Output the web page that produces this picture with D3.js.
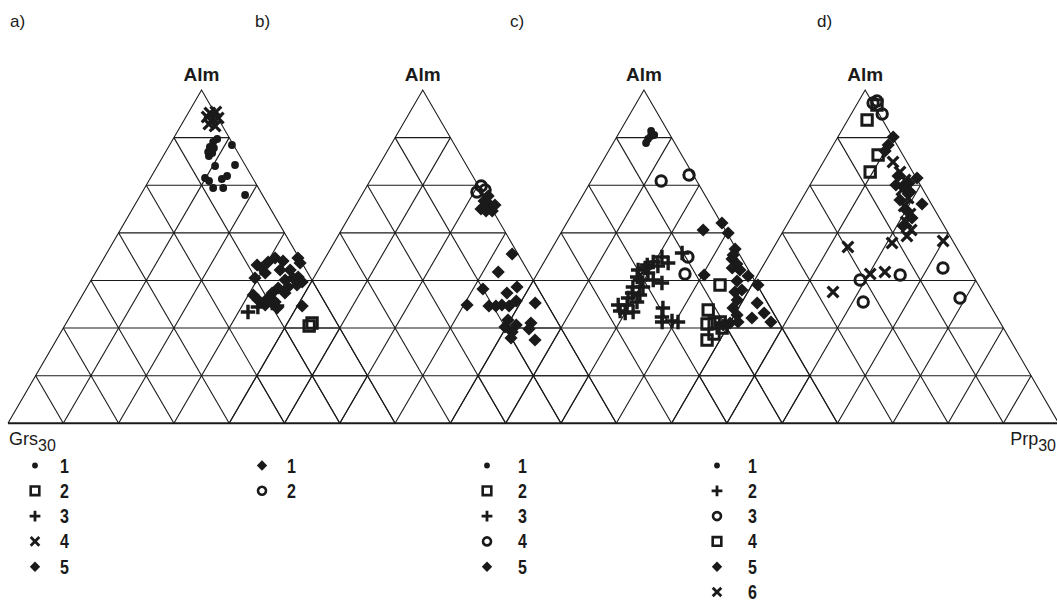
<!DOCTYPE html>
<html>
<head>
<meta charset="utf-8">
<script src="https://cdn.jsdelivr.net/npm/d3@7"></script>
<style>
  html, body { margin: 0; padding: 0; background: #fff; }
  svg { display: block; }
  text { fill: #1a1a1a; font-family: "Liberation Sans", Arial, sans-serif; }
</style>
</head>
<body>
<svg id="chart" width="1057" height="604"></svg>
<script>
// Garnet compositions, Alm–Grs–Prp ternary, four sample groups.
// Each point is [Alm, Prp] in percent of the plotted triangle; Grs = 100 - Alm - Prp.

const panelLabels = ["a)", "b)", "c)", "d)"];
const apexLabel = "Alm";
const leftCorner = "Grs";
const rightCorner = "Prp";
const cornerSub = "30";
const gridDivisions = 7;

// ---- a) ----
const aDots = [[85.3,11.4],[84.4,10.8],[82.9,10.7],[81.4,11.0],[80.2,11.8],[82.6,11.9],[81.1,12.2],[83.5,16.1],[77.2,14.9],[77.5,19.9],[74.2,19.5],[73.3,18.6],[72.7,15.6],[73.6,14.1],[70.6,17.7],[70.6,20.3],[68.5,27.0]];
const aSquares = [[29.2,63.2],[30.1,63.5]];
const aPlus = [[33.4,45.3],[34.9,47.1],[36.1,50.2],[35.2,51.9]];
const aCross = [[93.1,5.6],[93.4,7.0],[91.3,7.3],[89.8,7.0],[89.2,8.9],[91.6,8.5],[91.9,5.5]];
const aDiamonds = [[47.5,40.6],[48.4,43.0],[49.6,44.2],[48.7,46.7],[49.6,50.1],[48.1,51.4],[43.6,42.0],[45.1,43.9],[46.6,42.3],[43.0,50.1],[43.6,51.8],[43.9,53.0],[42.4,54.8],[41.5,53.9],[40.6,49.5],[40.9,51.9],[39.1,52.0],[38.5,44.1],[37.6,48.4],[36.4,50.8],[35.5,48.7],[34.6,52.2],[35.2,58.4],[37.0,46.1],[39.1,48.7],[46.0,49.9],[46.0,47.3]];

// ---- b) ----
const bDiamonds = [[68.2,32.8],[66.7,32.5],[65.5,34.6],[64.3,32.9],[63.7,36.1],[63.7,34.5],[65.5,35.9],[50.8,47.7],[45.4,46.8],[40.3,45.4],[40.9,53.9],[39.1,52.2],[35.5,43.7],[35.2,49.5],[35.5,52.7],[35.2,54.7],[36.7,55.8],[36.1,61.0],[28.9,56.8],[29.5,59.4],[27.4,59.4],[25.6,60.0],[30.1,62.9],[28.3,63.3],[25.0,66.5],[31.0,56.5],[35.2,51.3]];
const bCircles = [[71.2,29.5],[69.4,29.3],[70.0,31.1]];

// ---- c) ----
const cDots = [[87.7,8.0],[86.5,9.4],[85.3,8.4],[84.1,8.5],[86.2,8.7]];
const cSquares = [[41.5,48.9],[34.0,49.6],[29.8,51.4],[25.0,53.8],[30.1,53.1],[28.6,55.9],[26.8,54.7],[30.4,54.5]];
const cPlus = [[51.1,34.3],[49.9,29.7],[48.1,32.2],[48.4,28.2],[47.5,27.1],[46.0,25.5],[43.9,26.3],[42.1,33.6],[45.1,28.5],[43.0,30.9],[40.9,26.7],[40.9,29.3],[39.1,27.4],[38.5,29.7],[35.5,25.6],[35.5,27.9],[36.4,30.0],[33.1,28.6],[33.7,27.0],[33.4,30.5],[34.6,37.6],[31.9,38.7],[30.4,39.5],[30.7,41.9],[30.4,43.6],[43.0,27.5],[37.6,27.1],[46.6,27.0],[47.2,30.0]];
const cCircles = [[72.7,18.1],[74.5,24.4],[49.9,36.4],[44.8,38.2]];
const cDiamonds = [[58.0,36.3],[60.1,40.1],[57.1,43.2],[52.3,47.4],[49.3,48.1],[47.8,50.1],[46.6,49.5],[46.0,51.8],[44.5,43.3],[44.2,54.8],[41.5,58.7],[42.7,52.7],[39.4,53.8],[37.0,55.6],[36.1,61.2],[33.1,64.5],[31.6,62.1],[30.4,67.6],[34.6,55.7],[32.5,57.8],[30.4,59.1],[29.5,55.7],[30.1,57.2],[40.0,55.3],[50.5,47.8]];

// ---- d) ----
const dDots = [];
const dPlus = [];
const dCircles = [[96.1,4.0],[96.7,4.7],[92.8,8.0],[43.0,27.2],[44.5,36.8],[46.6,46.8],[37.6,55.7],[36.4,31.3]];
const dSquares = [[91.0,5.0],[95.5,5.3],[80.5,13.1],[75.4,13.6]];
const dDiamonds = [[85.9,14.3],[83.5,14.2],[81.7,14.3],[73.6,26.6],[65.8,31.8],[74.2,21.4],[71.2,24.4],[69.4,26.9],[67.0,25.5],[64.0,28.6],[61.6,31.3],[59.2,30.2],[72.1,25.3],[71.5,22.2]];
const dCross = [[78.4,18.0],[75.4,21.3],[73.0,23.8],[70.0,24.5],[67.6,27.3],[65.2,27.5],[62.8,30.2],[60.4,30.4],[58.0,32.9],[56.2,32.7],[52.9,19.1],[54.1,29.9],[54.7,42.8],[44.8,28.9],[45.4,32.4],[39.4,22.0]];

// Series of each panel: marker kind, legend number, points
const panels = [
  [["dot","1",aDots],["square","2",aSquares],["plus","3",aPlus],["cross","4",aCross],["diamond","5",aDiamonds]],
  [["diamond","1",bDiamonds],["circle","2",bCircles]],
  [["dot","1",cDots],["square","2",cSquares],["plus","3",cPlus],["circle","4",cCircles],["diamond","5",cDiamonds]],
  [["dot","1",dDots],["plus","2",dPlus],["circle","3",dCircles],["square","4",dSquares],["diamond","5",dDiamonds],["cross","6",dCross]]
];

// ---- layout ----
const svg = d3.select("#chart");
const cell = 55.3;           // width of one grid cell
const x0 = 8;                // left corner of the first triangle
const apexY = 90, baseY = 423.3;
const side = cell * gridDivisions;
const ink = "#1a1a1a";

const yScale = d3.scaleLinear().domain([0, 100]).range([baseY, apexY]);

function panelScale(i) {
  const left = x0 + i * 4 * cell;
  return d3.scaleLinear().domain([0, 100]).range([left, left + side]);
}
function project(xs, alm, prp) {
  return [xs(prp + alm / 2), yScale(alm)];
}

// Marker shapes as d3.symbol types (size = half extent in px)
const markerTypes = {
  dot:     { draw(c, s) { c.moveTo(s, 0); c.arc(0, 0, s, 0, 2 * Math.PI); } },
  circle:  { draw(c, s) { c.moveTo(s, 0); c.arc(0, 0, s, 0, 2 * Math.PI); } },
  square:  { draw(c, s) { c.rect(-s, -s, 2 * s, 2 * s); } },
  diamond: { draw(c, s) { c.moveTo(0, -s); c.lineTo(s, 0); c.lineTo(0, s); c.lineTo(-s, 0); c.closePath(); } },
  plus:    { draw(c, s) { c.moveTo(-s, 0); c.lineTo(s, 0); c.moveTo(0, -s); c.lineTo(0, s); } },
  cross:   { draw(c, s) { c.moveTo(-s, -s); c.lineTo(s, s); c.moveTo(s, -s); c.lineTo(-s, s); } }
};
const markerStyle = {
  dot:     { size: 3.9, fill: ink, stroke: "none", sw: 0 },
  circle:  { size: 5.2, fill: "none", stroke: ink, sw: 3.0 },
  square:  { size: 5.2, fill: "none", stroke: ink, sw: 3.0 },
  diamond: { size: 6.6, fill: ink, stroke: "none", sw: 0 },
  plus:    { size: 7.2, fill: "none", stroke: ink, sw: 3.4 },
  cross:   { size: 5.4, fill: "none", stroke: ink, sw: 3.2 }
};
const legendStyle = {
  dot:     { size: 2.9, sw: 0 },
  circle:  { size: 4.0, sw: 2.6 },
  square:  { size: 4.3, sw: 2.6 },
  diamond: { size: 5.2, sw: 0 },
  plus:    { size: 5.4, sw: 2.8 },
  cross:   { size: 4.3, sw: 2.8 }
};

// ---- grid ----
const gridG = svg.append("g").attr("fill", "none").attr("stroke", ink).attr("stroke-width", 1.1);
const line = d3.line();
const steps = d3.range(1, gridDivisions).map(k => k * 100 / gridDivisions);

panels.forEach((_, i) => {
  const xs = panelScale(i);
  const g = gridG.append("g");
  steps.forEach(v => {
    g.append("path").attr("d", line([project(xs, v, 0), project(xs, v, 100 - v)]));
    g.append("path").attr("d", line([project(xs, 0, v), project(xs, 100 - v, v)]));
    g.append("path").attr("d", line([project(xs, 0, 100 - v), project(xs, 100 - v, 0)]));
  });
  g.append("path").attr("d", line([project(xs, 0, 0), project(xs, 100, 0), project(xs, 0, 100)]));
});
// common base line
gridG.append("path")
  .attr("stroke-width", 2)
  .attr("d", line([project(panelScale(0), 0, 0), project(panelScale(3), 0, 100)]));

// ---- points ----
panels.forEach((series, i) => {
  const xs = panelScale(i);
  const g = svg.append("g");
  series.forEach(([kind, , pts]) => {
    const st = markerStyle[kind];
    g.selectAll(null).data(pts).join("path")
      .attr("transform", d => `translate(${project(xs, d[0], d[1])})`)
      .attr("d", d3.symbol(markerTypes[kind], st.size))
      .attr("fill", st.fill)
      .attr("stroke", st.stroke)
      .attr("stroke-width", st.sw);
  });
});

// ---- labels ----
panels.forEach((_, i) => {
  const xs = panelScale(i);
  const [ax, ay] = project(xs, 100, 0);
  svg.append("text")
    .attr("x", ax).attr("y", ay - 9)
    .attr("text-anchor", "middle")
    .attr("font-size", 19).attr("font-weight", "bold")
    .text(apexLabel);
});

const letterX = [10, 255, 510, 817];
panelLabels.forEach((t, i) => {
  svg.append("text").attr("x", letterX[i]).attr("y", 27)
    .attr("font-size", 17).text(t);
});

function cornerText(x, anchor, name) {
  const t = svg.append("text").attr("x", x).attr("y", 445)
    .attr("font-size", 18).attr("text-anchor", anchor);
  t.append("tspan").text(name);
  t.append("tspan").attr("font-size", 16).attr("dy", 6).text(cornerSub);
}
cornerText(9, "start", leftCorner);
cornerText(1056, "end", rightCorner);

// ---- legends ----
const legendX = [35, 262, 487, 717];
const legendTextDx = [25, 25, 31, 31];
const legendY0 = 465.5, legendDy = 25.3;
panels.forEach((series, i) => {
  const g = svg.append("g").attr("transform", `translate(${legendX[i]},${legendY0})`);
  series.forEach(([kind, label], j) => {
    const st = markerStyle[kind];
    g.append("path")
      .attr("transform", `translate(0,${j * legendDy})`)
      .attr("d", d3.symbol(markerTypes[kind], legendStyle[kind].size))
      .attr("fill", st.fill)
      .attr("stroke", st.stroke)
      .attr("stroke-width", legendStyle[kind].sw);
    // narrow digits: horizontally condensed bold text
    g.append("text")
      .attr("transform", `translate(${legendTextDx[i]},${j * legendDy + 7}) scale(0.8,1)`)
      .attr("font-size", 20).attr("font-weight", "bold")
      .text(label);
  });
});
</script>
</body>
</html>
